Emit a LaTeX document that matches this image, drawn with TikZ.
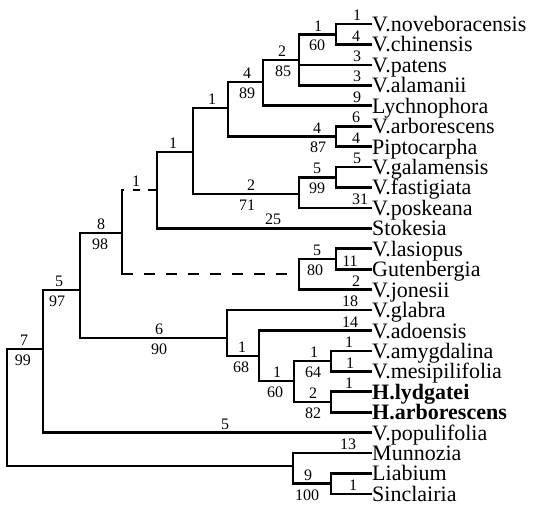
\documentclass[tikz,border=0pt]{standalone}
\usepackage{fontspec}
\setmainfont{Liberation Serif}
\begin{document}
\begin{tikzpicture}[x=1pt,y=-1pt,
  br/.style={line width=2.6pt},
  thinbr/.style={line width=1.6pt},
  leaf/.style={font=\fontsize{22}{22}\selectfont, inner sep=0pt, anchor=base west},
  up/.style={font=\fontsize{16}{16}\selectfont, inner sep=0pt, anchor=south, yshift=3pt},
  dn/.style={font=\fontsize{16}{16}\selectfont, inner sep=0pt, anchor=north, yshift=-5.5pt},
  dashlow/.style={dash pattern=on 11pt off 11pt},
  dashtop/.style={dash pattern=on 2pt off 9pt on 7pt off 8pt on 9pt off 60pt}]
\useasboundingbox (0,0) rectangle (536,506);
% leaf ends
\coordinate (t1) at (372,24.0);
\coordinate (t2) at (372,44.4);
\coordinate (t3) at (372,64.9);
\coordinate (t4) at (372,85.3);
\coordinate (t5) at (372,105.7);
\coordinate (t6) at (372,126.2);
\coordinate (t7) at (372,146.6);
\coordinate (t8) at (372,167.0);
\coordinate (t9) at (372,187.4);
\coordinate (t10) at (372,207.9);
\coordinate (t11) at (372,228.3);
\coordinate (t12) at (372,248.7);
\coordinate (t13) at (372,269.2);
\coordinate (t14) at (372,289.6);
\coordinate (t15) at (372,310.0);
\coordinate (t16) at (372,330.5);
\coordinate (t17) at (372,350.9);
\coordinate (t18) at (372,371.3);
\coordinate (t19) at (372,391.7);
\coordinate (t20) at (372,412.2);
\coordinate (t21) at (372,432.6);
\coordinate (t22) at (372,453.0);
\coordinate (t23) at (372,473.4);
\coordinate (t24) at (372,493.9);
% internal nodes
\coordinate (n1) at (336,34.2);
\coordinate (n2) at (299,60);
\coordinate (n3) at (263,82);
\coordinate (n4) at (336,136.4);
\coordinate (n5) at (228,108);
\coordinate (n6) at (336,177.2);
\coordinate (n7) at (299,194);
\coordinate (n8) at (193,152);
\coordinate (n9) at (157,190);
\coordinate (n10) at (336,259);
\coordinate (n11) at (299,274);
\coordinate (n12) at (122,233);
\coordinate (n13) at (331,361.1);
\coordinate (n14) at (331,402);
\coordinate (n15) at (294,381);
\coordinate (n16) at (259,356);
\coordinate (n17) at (227,338);
\coordinate (n18) at (80,290);
\coordinate (n19) at (43,349);
\coordinate (n20) at (331,483.7);
\coordinate (n21) at (293,466);
\coordinate (n22) at (7,407);
% branches
\draw[br] (t1) -| (n1) |- (t2);
\draw[br] (n1) -| (n2) |- (t4);
\draw[thinbr] (n2 |- t3) -- (t3);
\draw[br] (n2) -| (n3) |- (t5);
\draw[br] (t6) -| (n4) |- (t7);
\draw[br] (n3) -| (n5) |- (n4);
\draw[br] (t8) -| (n6) |- (t9);
\draw[br] (n6) -| (n7) |- (t10);
\draw[br] (n5) -| (n8) |- (n7);
\draw[br] (n8) -| (n9) |- (t11);
\draw[br] (t12) -| (n10) |- (t13);
\draw[br] (n10) -| (n11) |- (t14);
\draw[br,line cap=rect] (n12 |- n9) -- (n12 |- n11);
\draw[br,dashtop] (n12 |- n9) -- (n9);
\draw[br,dashlow] (n12 |- n11) -- (n11);
\draw[br] (t17) -| (n13) |- (t18);
\draw[br] (t19) -| (n14) |- (t20);
\draw[br] (n13) -| (n15) |- (n14);
\draw[br] (t16) -| (n16) |- (n15);
\draw[br] (t15) -| (n17) |- (n16);
\draw[br] (n12) -| (n18) |- (n17);
\draw[br] (n18) -| (n19) |- (t21);
\draw[br] (t23) -| (n20) |- (t24);
\draw[br] (t22) -| (n21) |- (n20);
\draw[br] (n19) -| (n22) |- (n21);
% leaf names
\node[leaf] (L1) at ([yshift=-7.5pt]t1) {V.noveboracensis};
\node[leaf] (L2) at ([yshift=-7.5pt]t2) {V.chinensis};
\node[leaf] (L3) at ([yshift=-7.5pt]t3) {V.patens};
\node[leaf] (L4) at ([yshift=-7.5pt]t4) {V.alamanii};
\node[leaf] (L5) at ([yshift=-7.5pt]t5) {Lychnophora};
\node[leaf] (L6) at ([yshift=-7.5pt]t6) {V.arborescens};
\node[leaf] (L7) at ([yshift=-7.5pt]t7) {Piptocarpha};
\node[leaf] (L8) at ([yshift=-7.5pt]t8) {V.galamensis};
\node[leaf] (L9) at ([yshift=-7.5pt]t9) {V.fastigiata};
\node[leaf] (L10) at ([yshift=-7.5pt]t10) {V.poskeana};
\node[leaf] (L11) at ([yshift=-7.5pt]t11) {Stokesia};
\node[leaf] (L12) at ([yshift=-7.5pt]t12) {V.lasiopus};
\node[leaf] (L13) at ([yshift=-7.5pt]t13) {Gutenbergia};
\node[leaf] (L14) at ([yshift=-7.5pt]t14) {V.jonesii};
\node[leaf] (L15) at ([yshift=-7.5pt]t15) {V.glabra};
\node[leaf] (L16) at ([yshift=-7.5pt]t16) {V.adoensis};
\node[leaf] (L17) at ([yshift=-7.5pt]t17) {V.amygdalina};
\node[leaf] (L18) at ([yshift=-7.5pt]t18) {V.mesipilifolia};
\node[leaf] (L19) at ([yshift=-7.5pt]t19) {\bfseries H.lydgatei};
\node[leaf] (L20) at ([yshift=-7.5pt]t20) {\bfseries H.arborescens};
\node[leaf] (L21) at ([yshift=-7.5pt]t21) {V.populifolia};
\node[leaf] (L22) at ([yshift=-7.5pt]t22) {Munnozia};
\node[leaf] (L23) at ([yshift=-7.5pt]t23) {Liabium};
\node[leaf] (L24) at ([yshift=-7.5pt]t24) {Sinclairia};
% internal labels
\node[up] (u1) at (318,34.2) {1};   \node[dn] (d1) at (317,34.2) {60};
\node[up] (u2) at (282,60) {2};     \node[dn] (d2) at (283,60) {85};
\node[up] (u3) at (247,82) {4};     \node[dn] (d3) at (247,82) {89};
\node[up] (u4) at (317,136.4) {4};  \node[dn] (d4) at (318,136.4) {87};
\node[up] (u5) at (212,108) {1};
\node[up] (u6) at (317,177.2) {5};  \node[dn] (d6) at (317,177.2) {99};
\node[up] (u7) at (251,194) {2};    \node[dn] (d7) at (247,194) {71};
\node[up] (u8) at (173,152) {1};
\node[up] (u9) at (136,190) {1};
\node[up] (u10) at (317,259) {5};   \node[dn] (d10) at (315,259) {80};
\node[up] (u12) at (101,233) {8};   \node[dn] (d12) at (100,233) {98};
\node[up] (u13) at (314,361.1) {1}; \node[dn] (d13) at (313,361.1) {64};
\node[up] (u14) at (313,402) {2};   \node[dn] (d14) at (313,402) {82};
\node[up] (u15) at (277,381) {1};   \node[dn] (d15) at (275,381) {60};
\node[up] (u16) at (242,356) {1};   \node[dn] (d16) at (241,356) {68};
\node[up] (u17) at (159,338) {6};   \node[dn] (d17) at (159,338) {90};
\node[up] (u18) at (59,290) {5};    \node[dn] (d18) at (57,290) {97};
\node[up] (u19) at (24,349) {7};    \node[dn] (d19) at (23,349) {99};
\node[up] (u20) at (308,483.7) {9}; \node[dn] (d20) at (307,483.7) {100};
% leaf branch labels
\node[up] (k1) at (357,24.0) {1};
\node[up] (k2) at (356,44.4) {4};
\node[up] (k3) at (357,64.9) {3};
\node[up] (k4) at (357,85.3) {3};
\node[up] (k5) at (357,105.7) {9};
\node[up] (k6) at (356,126.2) {6};
\node[up] (k7) at (356,146.6) {4};
\node[up] (k8) at (357,167.0) {5};
\node[up] (k10) at (360,207.9) {31};
\node[up] (k11) at (273,228.3) {25};
\node[up] (k13) at (350,269.2) {11};
\node[up] (k14) at (356,289.6) {2};
\node[up] (k15) at (350,310.0) {18};
\node[up] (k16) at (350,330.5) {14};
\node[up] (k17) at (349,350.9) {1};
\node[up] (k18) at (350,371.3) {1};
\node[up] (k19) at (349,391.7) {1};
\node[up] (k21) at (225,432.6) {5};
\node[up] (k22) at (348,453.0) {13};
\node[up] (k24) at (353,493.9) {1};
\end{tikzpicture}
\end{document}
